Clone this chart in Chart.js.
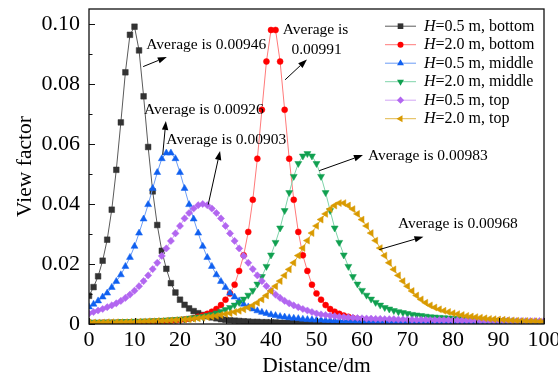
<!DOCTYPE html>
<html>
<head>
<meta charset="utf-8">
<script src="https://cdn.jsdelivr.net/npm/chart.js@4/dist/chart.umd.min.js"></script>
<style>
html,body{margin:0;padding:0;background:#fff;}
#wrap{width:558px;height:381px;}
</style>
</head>
<body>
<div id="wrap"><canvas id="c" width="558" height="381"></canvas></div>
<script>
// ---------- data ----------
const distance = [0,1,2,3,4,5,6,7,8,9,10,11,12,13,14,15,16,17,18,19,20,21,22,23,24,25,26,27,28,29,30,31,32,33,34,35,36,37,38,39,40,41,42,43,44,45,46,47,48,49,50,51,52,53,54,55,56,57,58,59,60,61,62,63,64,65,66,67,68,69,70,71,72,73,74,75,76,77,78,79,80,81,82,83,84,85,86,87,88,89,90,91,92,93,94,95,96,97,98,99,100];

const seriesNames = ['H=0.5 m, bottom','H=2.0 m, bottom','H=0.5 m, middle','H=2.0 m, middle','H=0.5 m, top','H=2.0 m, top'];

const bottom05 = [
.0094,.0123,.0159,.0211,.0281,.0381,.0514,.0672,.0839,.0964,
.0991,.0912,.0759,.0590,.0442,.0330,.0244,.0184,.0136,.0105,
.0081,.0064,.0052,.0043,.0036,.0030,.0026,.0022,.0019,.0016,
.0014,.0012,.0011,.0010,.0009,.0008,.0007,.0007,.0006,.0006,
.0005,.0005,.0004,.0004,.0004,.0004,.0003,.0003,.0003,.0003,
.0003,.0003,.0002,.0002,.0002,.0002,.0002,.0002,.0002,.0002,
.0002,.0002,.0002,.0002,.0002,.0002,.0002,.0002,.0002,.0002,
.0002,.0002,.0001,.0001,.0001,.0001,.0001,.0001,.0001,.0001,
.0001,.0001,.0001,.0001,.0001,.0001,.0001,.0001,.0001,.0001,
.0001,.0001,.0001,.0001,.0001,.0001,.0001,.0001,.0001,.0001,.0001];

const bottom20 = [
.0003,.0003,.0003,.0004,.0004,.0004,.0004,.0005,.0005,.0005,
.0006,.0006,.0007,.0007,.0008,.0008,.0009,.0010,.0011,.0012,
.0013,.0015,.0017,.0020,.0024,.0028,.0034,.0041,.0050,.0063,
.0081,.0102,.0131,.0177,.0229,.0307,.0414,.0551,.0714,.0875,
.0980,.0980,.0875,.0714,.0551,.0414,.0307,.0229,.0177,.0131,
.0102,.0081,.0063,.0050,.0041,.0034,.0028,.0024,.0020,.0017,
.0015,.0013,.0012,.0011,.0010,.0009,.0008,.0008,.0007,.0007,
.0006,.0006,.0005,.0005,.0005,.0004,.0004,.0004,.0004,.0004,
.0004,.0003,.0003,.0003,.0003,.0003,.0003,.0003,.0003,.0003,
.0003,.0002,.0002,.0002,.0002,.0002,.0002,.0002,.0002,.0002,.0002];

const middle05 = [
.0057,.0066,.0077,.0090,.0103,.0122,.0142,.0164,.0192,.0222,
.0259,.0303,.0350,.0398,.0452,.0505,.0551,.0570,.0570,.0551,
.0505,.0452,.0398,.0350,.0303,.0259,.0222,.0192,.0164,.0142,
.0122,.0103,.0090,.0077,.0066,.0057,.0050,.0044,.0039,.0035,
.0031,.0028,.0025,.0023,.0021,.0019,.0018,.0016,.0015,.0014,
.0013,.0013,.0012,.0012,.0011,.0011,.0010,.0010,.0010,.0009,
.0009,.0009,.0008,.0008,.0008,.0008,.0007,.0007,.0007,.0007,
.0007,.0006,.0006,.0006,.0006,.0006,.0006,.0006,.0006,.0006,
.0006,.0005,.0005,.0005,.0005,.0005,.0005,.0005,.0005,.0005,
.0005,.0005,.0005,.0005,.0005,.0004,.0004,.0004,.0004,.0004,.0004];

const middle20 = [
.0006,.0006,.0006,.0006,.0007,.0007,.0007,.0008,.0008,.0008,
.0009,.0009,.0010,.0010,.0011,.0011,.0012,.0013,.0014,.0015,
.0016,.0017,.0019,.0021,.0023,.0025,.0028,.0032,.0037,.0042,
.0048,.0055,.0063,.0072,.0083,.0096,.0112,.0133,.0158,.0192,
.0230,.0272,.0320,.0378,.0438,.0492,.0535,.0560,.0568,.0560,
.0535,.0492,.0438,.0378,.0320,.0272,.0230,.0192,.0158,.0133,
.0112,.0096,.0083,.0072,.0063,.0055,.0050,.0045,.0041,.0038,
.0035,.0032,.0030,.0028,.0026,.0024,.0023,.0022,.0021,.0020,
.0019,.0018,.0017,.0016,.0015,.0014,.0014,.0013,.0012,.0012,
.0011,.0011,.0010,.0010,.0009,.0009,.0009,.0008,.0008,.0008,.0007];

const top05 = [
.0035,.0040,.0045,.0050,.0056,.0062,.0069,.0077,.0087,.0098,
.0111,.0126,.0143,.0162,.0183,.0204,.0227,.0252,.0277,.0302,
.0327,.0352,.0370,.0385,.0396,.0400,.0396,.0385,.0370,.0352,
.0327,.0302,.0277,.0252,.0227,.0204,.0183,.0162,.0143,.0126,
.0111,.0098,.0087,.0077,.0069,.0062,.0056,.0050,.0045,.0040,
.0035,.0032,.0030,.0028,.0026,.0024,.0023,.0022,.0021,.0020,
.0019,.0018,.0018,.0017,.0017,.0016,.0016,.0016,.0015,.0015,
.0015,.0014,.0014,.0014,.0014,.0013,.0013,.0013,.0013,.0013,
.0012,.0012,.0012,.0012,.0012,.0012,.0011,.0011,.0011,.0011,
.0011,.0011,.0011,.0010,.0010,.0010,.0010,.0010,.0010,.0010,.0010];

const top20 = [
.0005,.0005,.0005,.0005,.0006,.0006,.0006,.0006,.0006,.0007,
.0007,.0008,.0008,.0009,.0009,.0010,.0010,.0011,.0012,.0013,
.0014,.0015,.0016,.0017,.0019,.0021,.0023,.0025,.0027,.0030,
.0033,.0036,.0040,.0044,.0049,.0055,.0062,.0071,.0082,.0095,
.0110,.0126,.0143,.0162,.0182,.0204,.0228,.0253,.0278,.0303,
.0327,.0348,.0367,.0383,.0395,.0403,.0403,.0395,.0383,.0367,
.0348,.0327,.0303,.0278,.0253,.0228,.0204,.0182,.0162,.0143,
.0126,.0110,.0095,.0082,.0071,.0062,.0055,.0049,.0044,.0040,
.0036,.0033,.0030,.0027,.0025,.0023,.0021,.0019,.0017,.0016,
.0015,.0014,.0013,.0012,.0011,.0010,.0010,.0009,.0009,.0008,.0008];

const xTicks = [0,10,20,30,40,50,60,70,80,90,100];
const yTicks = [0,0.02,0.04,0.06,0.08,0.10];
const averageTexts = ['Average is 0.00946','Average is 0.00926','Average is 0.00903','Average is','0.00991','Average is 0.00983','Average is 0.00968'];

// ---------- styles / layout ----------
const FONT = "'Liberation Serif','Times New Roman',serif";
const styles = [
  {line:'#5a5a5a', fill:'#333333', shape:'rect',     rot:0,   r:4},
  {line:'#ff7a7a', fill:'#ff0000', shape:'circle',   rot:0,   r:3},
  {line:'#6b9cf5', fill:'#1060f0', shape:'triangle', rot:0,   r:4},
  {line:'#7fd4aa', fill:'#10a050', shape:'triangle', rot:180, r:4},
  {line:'#d2a6f5', fill:'#b266f0', shape:'rectRot',  rot:0,   r:3.6},
  {line:'#e2b84a', fill:'#d99a00', shape:'triangle', rot:270, r:4}
];
const seriesValues = [bottom05,bottom20,middle05,middle20,top05,top20];

// annotation placement (data coordinates)
const notePlaces = [
  {text:0, x:12.6, y:0.0931},
  {text:1, x:12.1, y:0.0714},
  {text:2, x:17.0, y:0.0614},
  {text:3, x:42.6, y:0.0981},
  {text:4, x:44.5, y:0.0913},
  {text:5, x:61.3, y:0.0559},
  {text:6, x:67.9, y:0.0334}
];
const arrowPlaces = [
  {from:[11.9,0.0858], to:[17.1,0.0890]},
  {from:[16.2,0.0564], to:[16.9,0.0677]},
  {from:[26.2,0.0398], to:[28.8,0.0577]},
  {from:[43.1,0.0814], to:[47.9,0.0882]},
  {from:[50.6,0.0511], to:[60.2,0.0563]},
  {from:[63.8,0.0248], to:[73.5,0.0291]}
];

const datasets = seriesValues.map((vals, i) => ({
  label: seriesNames[i],
  data: distance.map((d, k) => ({x: d, y: vals[k]})),
  borderColor: styles[i].line,
  borderWidth: 1,
  pointStyle: styles[i].shape,
  pointRotation: styles[i].rot,
  pointRadius: styles[i].r,
  pointBackgroundColor: styles[i].fill,
  pointBorderColor: styles[i].fill,
  pointBorderWidth: 0.5,
  tension: 0,
  order: 6 - i
}));

function drawMarker(ctx, shape, rotDeg, r, x, y, color) {
  ctx.save();
  ctx.fillStyle = color;
  ctx.beginPath();
  if (shape === 'rect') {
    const s = Math.SQRT1_2 * r;
    ctx.rect(x - s, y - s, 2 * s, 2 * s);
  } else if (shape === 'circle') {
    ctx.arc(x, y, r, 0, Math.PI * 2);
  } else if (shape === 'rectRot') {
    ctx.moveTo(x - r, y); ctx.lineTo(x, y - r); ctx.lineTo(x + r, y); ctx.lineTo(x, y + r);
  } else {
    let rad = rotDeg * Math.PI / 180;
    for (let k = 0; k < 3; k++) {
      const px = x + Math.sin(rad) * r, py = y - Math.cos(rad) * r;
      if (k === 0) ctx.moveTo(px, py); else ctx.lineTo(px, py);
      rad += 2 * Math.PI / 3;
    }
  }
  ctx.closePath();
  ctx.fill();
  ctx.restore();
}

const framePlugin = {
  id: 'frame',
  afterDraw(chart) {
    const {ctx, chartArea: a, scales} = chart;
    const xs = scales.x, ys = scales.y;
    ctx.save();
    ctx.strokeStyle = '#111';
    ctx.lineWidth = 1.3;
    ctx.strokeRect(a.left, a.top, a.right - a.left, a.bottom - a.top);
    ctx.lineWidth = 1;
    ctx.beginPath();
    const yt = ys.ticks.map(t => t.value);
    yt.forEach((v, k) => {
      const p = Math.round(ys.getPixelForValue(v)) + 0.5;
      ctx.moveTo(a.left, p); ctx.lineTo(a.left + 6, p);
      if (k < yt.length - 1) {
        const m = Math.round(ys.getPixelForValue((v + yt[k + 1]) / 2)) + 0.5;
        ctx.moveTo(a.left, m); ctx.lineTo(a.left + 3.5, m);
      }
    });
    const xt = xs.ticks.map(t => t.value);
    xt.forEach((v, k) => {
      const p = Math.round(xs.getPixelForValue(v)) + 0.5;
      ctx.moveTo(p, a.bottom); ctx.lineTo(p, a.bottom - 6);
      if (k < xt.length - 1) {
        const m = Math.round(xs.getPixelForValue((v + xt[k + 1]) / 2)) + 0.5;
        ctx.moveTo(m, a.bottom); ctx.lineTo(m, a.bottom - 3.5);
      }
    });
    ctx.stroke();

    // annotations
    ctx.fillStyle = '#000';
    ctx.font = "15.5px " + FONT;
    ctx.textBaseline = 'middle';
    ctx.textAlign = 'left';
    notePlaces.forEach(n => {
      ctx.fillText(averageTexts[n.text], xs.getPixelForValue(n.x), ys.getPixelForValue(n.y));
    });
    ctx.strokeStyle = '#000';
    ctx.lineWidth = 1;
    arrowPlaces.forEach(ar => {
      const x1 = xs.getPixelForValue(ar.from[0]), y1 = ys.getPixelForValue(ar.from[1]);
      const x2 = xs.getPixelForValue(ar.to[0]), y2 = ys.getPixelForValue(ar.to[1]);
      const ang = Math.atan2(y2 - y1, x2 - x1);
      const L = 9, W = 3.2;
      const bx = x2 - Math.cos(ang) * L, by = y2 - Math.sin(ang) * L;
      ctx.beginPath(); ctx.moveTo(x1, y1); ctx.lineTo(bx, by); ctx.stroke();
      ctx.beginPath();
      ctx.moveTo(x2, y2);
      ctx.lineTo(bx + Math.sin(ang) * W, by - Math.cos(ang) * W);
      ctx.lineTo(bx - Math.sin(ang) * W, by + Math.cos(ang) * W);
      ctx.closePath(); ctx.fill();
    });

    // legend
    const lx0 = a.right - 159, lx1 = a.right - 128, tx = a.right - 120;
    ctx.font = "16px " + FONT;
    seriesNames.forEach((name, i) => {
      const y = a.top + 16.7 + 18.5 * i;
      ctx.strokeStyle = styles[i].line;
      ctx.lineWidth = 1;
      ctx.beginPath(); ctx.moveTo(lx0, y + 0.5); ctx.lineTo(lx1, y + 0.5); ctx.stroke();
      drawMarker(ctx, styles[i].shape, styles[i].rot, styles[i].r, (lx0 + lx1) / 2, y + 0.5, styles[i].fill);
      ctx.fillStyle = '#000';
      const head = name.charAt(0), rest = name.slice(1);
      ctx.font = "italic 16px " + FONT;
      ctx.fillText(head, tx, y + 1);
      const w = ctx.measureText(head).width;
      ctx.font = "16px " + FONT;
      ctx.fillText(rest, tx + w, y + 1);
    });
    ctx.restore();
  }
};

new Chart(document.getElementById('c'), {
  type: 'line',
  data: { datasets },
  options: {
    responsive: false,
    animation: false,
    devicePixelRatio: 1,
    layout: { padding: { left: 0, right: 14, top: 9, bottom: 0 } },
    plugins: { legend: { display: false }, tooltip: { enabled: false } },
    scales: {
      x: {
        type: 'linear', min: 0, max: 100,
        afterBuildTicks(s) { s.ticks = xTicks.map(v => ({value: v})); },
        afterFit(s) { s.height = 57; s.paddingLeft = 0; s.paddingRight = 0; },
        grid: { display: false, drawTicks: false },
        border: { display: false },
        ticks: { color: '#000', font: { family: FONT, size: 22 }, padding: 3, maxRotation: 0, autoSkip: false },
        title: { display: true, text: 'Distance/dm', color: '#000', font: { family: FONT, size: 21.5, lineHeight: 1.2 }, padding: { top: 0, bottom: 2 } }
      },
      y: {
        type: 'linear', min: 0, max: 0.105,
        afterBuildTicks(s) { s.ticks = yTicks.map(v => ({value: v})); },
        afterFit(s) { s.width = 89; s.paddingTop = 0; s.paddingBottom = 0; },
        grid: { display: false, drawTicks: false },
        border: { display: false },
        ticks: { color: '#000', font: { family: FONT, size: 22 }, padding: 9, autoSkip: false,
                 callback: v => (v === 0 ? '0' : v.toFixed(2)) },
        title: { display: true, text: 'View factor', color: '#000', font: { family: FONT, size: 21.5, lineHeight: 1.2 }, padding: { top: 12, bottom: 0 } }
      }
    }
  },
  plugins: [framePlugin]
});
</script>
</body>
</html>
